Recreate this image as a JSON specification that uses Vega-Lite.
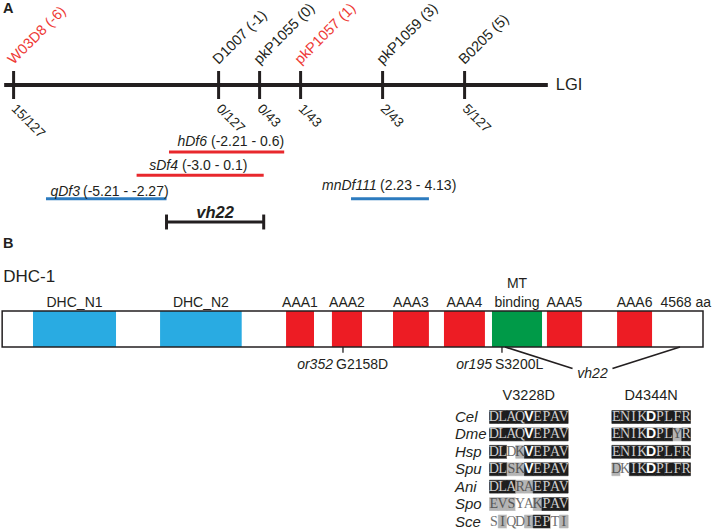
{
  "$schema": "https://vega.github.io/schema/vega-lite/v6.json",
  "width": 712,
  "height": 530,
  "autosize": {"type": "fit", "contains": "padding"},
  "padding": 0,
  "background": "white",
  "config": {
    "view": {"stroke": null},
    "text": {"font": "Liberation Sans", "color": "#231f20"}
  },
  "datasets": {
    "panels": [{"panel": "A"}, {"panel": "B"}],
    "chromosome": [{"chrom": "LGI", "from": -6.23, "to": 7.03}],
    "markers": [
      {"marker": "W03D8", "pos": -6, "recomb": "15/127", "highlighted": "yes"},
      {"marker": "D1007", "pos": -1, "recomb": "0/127", "highlighted": "no"},
      {"marker": "pkP1055", "pos": 0, "recomb": "0/43", "highlighted": "no"},
      {"marker": "pkP1057", "pos": 1, "recomb": "1/43", "highlighted": "yes"},
      {"marker": "pkP1059", "pos": 3, "recomb": "2/43", "highlighted": "no"},
      {"marker": "B0205", "pos": 5, "recomb": "5/127", "highlighted": "no"}
    ],
    "deficiencies": [
      {"name": "hDf6", "from": -2.21, "to": 0.6, "range": "(-2.21 - 0.6)", "test": "fails to complement", "lane": 1},
      {"name": "sDf4", "from": -3.0, "to": 0.1, "range": "(-3.0 - 0.1)", "test": "fails to complement", "lane": 2},
      {"name": "qDf3", "from": -5.21, "to": -2.27, "range": "(-5.21 - -2.27)", "test": "complements", "lane": 3},
      {"name": "mnDf111", "from": 2.23, "to": 4.13, "range": "(2.23 - 4.13)", "test": "complements", "lane": 3}
    ],
    "mapped": [{"allele": "vh22", "from": -2.27, "to": 0.1, "lane": 4}],
    "protein": [{"name": "DHC-1", "start": 1, "length": 4568}],
    "domains": [
      {"domain": "DHC_N1", "start": 202, "end": 743, "family": "DHC_N"},
      {"domain": "DHC_N2", "start": 1030, "end": 1562, "family": "DHC_N"},
      {"domain": "AAA1", "start": 1851, "end": 2033, "family": "AAA"},
      {"domain": "AAA2", "start": 2150, "end": 2346, "family": "AAA"},
      {"domain": "AAA3", "start": 2548, "end": 2782, "family": "AAA"},
      {"domain": "AAA4", "start": 2880, "end": 3147, "family": "AAA"},
      {"domain": "MT\nbinding", "start": 3193, "end": 3519, "family": "MTBD"},
      {"domain": "AAA5", "start": 3551, "end": 3780, "family": "AAA"},
      {"domain": "AAA6", "start": 4008, "end": 4236, "family": "AAA"}
    ],
    "mutations": [
      {"allele": "or352", "change": "G2158D", "pos": 2222},
      {"allele": "or195", "change": "S3200L", "pos": 3258}
    ],
    "vh22sites": [
      {"allele": "vh22", "change": "V3228D", "pos": 3278},
      {"allele": "vh22", "change": "D4344N", "pos": 4418}
    ],
    "alignment": [
      {"species": "Cel", "site": "V3228D", "pos": 1, "res": "D", "cons": "identical"},
      {"species": "Cel", "site": "V3228D", "pos": 2, "res": "L", "cons": "identical"},
      {"species": "Cel", "site": "V3228D", "pos": 3, "res": "A", "cons": "identical"},
      {"species": "Cel", "site": "V3228D", "pos": 4, "res": "Q", "cons": "identical"},
      {"species": "Cel", "site": "V3228D", "pos": 5, "res": "V", "cons": "identical", "key": true},
      {"species": "Cel", "site": "V3228D", "pos": 6, "res": "E", "cons": "identical"},
      {"species": "Cel", "site": "V3228D", "pos": 7, "res": "P", "cons": "identical"},
      {"species": "Cel", "site": "V3228D", "pos": 8, "res": "A", "cons": "identical"},
      {"species": "Cel", "site": "V3228D", "pos": 9, "res": "V", "cons": "identical"},
      {"species": "Dme", "site": "V3228D", "pos": 1, "res": "D", "cons": "identical"},
      {"species": "Dme", "site": "V3228D", "pos": 2, "res": "L", "cons": "identical"},
      {"species": "Dme", "site": "V3228D", "pos": 3, "res": "A", "cons": "identical"},
      {"species": "Dme", "site": "V3228D", "pos": 4, "res": "Q", "cons": "identical"},
      {"species": "Dme", "site": "V3228D", "pos": 5, "res": "V", "cons": "identical", "key": true},
      {"species": "Dme", "site": "V3228D", "pos": 6, "res": "E", "cons": "identical"},
      {"species": "Dme", "site": "V3228D", "pos": 7, "res": "P", "cons": "identical"},
      {"species": "Dme", "site": "V3228D", "pos": 8, "res": "A", "cons": "identical"},
      {"species": "Dme", "site": "V3228D", "pos": 9, "res": "V", "cons": "identical"},
      {"species": "Hsp", "site": "V3228D", "pos": 1, "res": "D", "cons": "identical"},
      {"species": "Hsp", "site": "V3228D", "pos": 2, "res": "L", "cons": "identical"},
      {"species": "Hsp", "site": "V3228D", "pos": 3, "res": "D", "cons": "different"},
      {"species": "Hsp", "site": "V3228D", "pos": 4, "res": "K", "cons": "similar"},
      {"species": "Hsp", "site": "V3228D", "pos": 5, "res": "V", "cons": "identical", "key": true},
      {"species": "Hsp", "site": "V3228D", "pos": 6, "res": "E", "cons": "identical"},
      {"species": "Hsp", "site": "V3228D", "pos": 7, "res": "P", "cons": "identical"},
      {"species": "Hsp", "site": "V3228D", "pos": 8, "res": "A", "cons": "identical"},
      {"species": "Hsp", "site": "V3228D", "pos": 9, "res": "V", "cons": "identical"},
      {"species": "Spu", "site": "V3228D", "pos": 1, "res": "D", "cons": "identical"},
      {"species": "Spu", "site": "V3228D", "pos": 2, "res": "L", "cons": "identical"},
      {"species": "Spu", "site": "V3228D", "pos": 3, "res": "S", "cons": "similar"},
      {"species": "Spu", "site": "V3228D", "pos": 4, "res": "K", "cons": "similar"},
      {"species": "Spu", "site": "V3228D", "pos": 5, "res": "V", "cons": "identical", "key": true},
      {"species": "Spu", "site": "V3228D", "pos": 6, "res": "E", "cons": "identical"},
      {"species": "Spu", "site": "V3228D", "pos": 7, "res": "P", "cons": "identical"},
      {"species": "Spu", "site": "V3228D", "pos": 8, "res": "A", "cons": "identical"},
      {"species": "Spu", "site": "V3228D", "pos": 9, "res": "V", "cons": "identical"},
      {"species": "Ani", "site": "V3228D", "pos": 1, "res": "D", "cons": "identical"},
      {"species": "Ani", "site": "V3228D", "pos": 2, "res": "L", "cons": "identical"},
      {"species": "Ani", "site": "V3228D", "pos": 3, "res": "A", "cons": "identical"},
      {"species": "Ani", "site": "V3228D", "pos": 4, "res": "R", "cons": "similar"},
      {"species": "Ani", "site": "V3228D", "pos": 5, "res": "A", "cons": "similar"},
      {"species": "Ani", "site": "V3228D", "pos": 6, "res": "E", "cons": "identical"},
      {"species": "Ani", "site": "V3228D", "pos": 7, "res": "P", "cons": "identical"},
      {"species": "Ani", "site": "V3228D", "pos": 8, "res": "A", "cons": "identical"},
      {"species": "Ani", "site": "V3228D", "pos": 9, "res": "V", "cons": "identical"},
      {"species": "Spo", "site": "V3228D", "pos": 1, "res": "E", "cons": "similar"},
      {"species": "Spo", "site": "V3228D", "pos": 2, "res": "V", "cons": "similar"},
      {"species": "Spo", "site": "V3228D", "pos": 3, "res": "S", "cons": "similar"},
      {"species": "Spo", "site": "V3228D", "pos": 4, "res": "Y", "cons": "different"},
      {"species": "Spo", "site": "V3228D", "pos": 5, "res": "A", "cons": "different"},
      {"species": "Spo", "site": "V3228D", "pos": 6, "res": "K", "cons": "similar"},
      {"species": "Spo", "site": "V3228D", "pos": 7, "res": "P", "cons": "identical"},
      {"species": "Spo", "site": "V3228D", "pos": 8, "res": "A", "cons": "identical"},
      {"species": "Spo", "site": "V3228D", "pos": 9, "res": "V", "cons": "identical"},
      {"species": "Sce", "site": "V3228D", "pos": 1, "res": "S", "cons": "different"},
      {"species": "Sce", "site": "V3228D", "pos": 2, "res": "I", "cons": "similar"},
      {"species": "Sce", "site": "V3228D", "pos": 3, "res": "Q", "cons": "different"},
      {"species": "Sce", "site": "V3228D", "pos": 4, "res": "D", "cons": "different"},
      {"species": "Sce", "site": "V3228D", "pos": 5, "res": "I", "cons": "similar"},
      {"species": "Sce", "site": "V3228D", "pos": 6, "res": "E", "cons": "identical"},
      {"species": "Sce", "site": "V3228D", "pos": 7, "res": "P", "cons": "identical"},
      {"species": "Sce", "site": "V3228D", "pos": 8, "res": "T", "cons": "different"},
      {"species": "Sce", "site": "V3228D", "pos": 9, "res": "I", "cons": "similar"},
      {"species": "Cel", "site": "D4344N", "pos": 1, "res": "E", "cons": "identical"},
      {"species": "Cel", "site": "D4344N", "pos": 2, "res": "N", "cons": "identical"},
      {"species": "Cel", "site": "D4344N", "pos": 3, "res": "I", "cons": "identical"},
      {"species": "Cel", "site": "D4344N", "pos": 4, "res": "K", "cons": "identical"},
      {"species": "Cel", "site": "D4344N", "pos": 5, "res": "D", "cons": "identical", "key": true},
      {"species": "Cel", "site": "D4344N", "pos": 6, "res": "P", "cons": "identical"},
      {"species": "Cel", "site": "D4344N", "pos": 7, "res": "L", "cons": "identical"},
      {"species": "Cel", "site": "D4344N", "pos": 8, "res": "F", "cons": "identical"},
      {"species": "Cel", "site": "D4344N", "pos": 9, "res": "R", "cons": "identical"},
      {"species": "Dme", "site": "D4344N", "pos": 1, "res": "E", "cons": "identical"},
      {"species": "Dme", "site": "D4344N", "pos": 2, "res": "N", "cons": "identical"},
      {"species": "Dme", "site": "D4344N", "pos": 3, "res": "I", "cons": "identical"},
      {"species": "Dme", "site": "D4344N", "pos": 4, "res": "K", "cons": "identical"},
      {"species": "Dme", "site": "D4344N", "pos": 5, "res": "D", "cons": "identical", "key": true},
      {"species": "Dme", "site": "D4344N", "pos": 6, "res": "P", "cons": "identical"},
      {"species": "Dme", "site": "D4344N", "pos": 7, "res": "L", "cons": "identical"},
      {"species": "Dme", "site": "D4344N", "pos": 8, "res": "Y", "cons": "similar"},
      {"species": "Dme", "site": "D4344N", "pos": 9, "res": "R", "cons": "identical"},
      {"species": "Hsp", "site": "D4344N", "pos": 1, "res": "E", "cons": "identical"},
      {"species": "Hsp", "site": "D4344N", "pos": 2, "res": "N", "cons": "identical"},
      {"species": "Hsp", "site": "D4344N", "pos": 3, "res": "I", "cons": "identical"},
      {"species": "Hsp", "site": "D4344N", "pos": 4, "res": "K", "cons": "identical"},
      {"species": "Hsp", "site": "D4344N", "pos": 5, "res": "D", "cons": "identical", "key": true},
      {"species": "Hsp", "site": "D4344N", "pos": 6, "res": "P", "cons": "identical"},
      {"species": "Hsp", "site": "D4344N", "pos": 7, "res": "L", "cons": "identical"},
      {"species": "Hsp", "site": "D4344N", "pos": 8, "res": "F", "cons": "identical"},
      {"species": "Hsp", "site": "D4344N", "pos": 9, "res": "R", "cons": "identical"},
      {"species": "Spu", "site": "D4344N", "pos": 1, "res": "D", "cons": "similar"},
      {"species": "Spu", "site": "D4344N", "pos": 2, "res": "K", "cons": "different"},
      {"species": "Spu", "site": "D4344N", "pos": 3, "res": "I", "cons": "identical"},
      {"species": "Spu", "site": "D4344N", "pos": 4, "res": "K", "cons": "identical"},
      {"species": "Spu", "site": "D4344N", "pos": 5, "res": "D", "cons": "identical", "key": true},
      {"species": "Spu", "site": "D4344N", "pos": 6, "res": "P", "cons": "identical"},
      {"species": "Spu", "site": "D4344N", "pos": 7, "res": "L", "cons": "identical"},
      {"species": "Spu", "site": "D4344N", "pos": 8, "res": "F", "cons": "identical"},
      {"species": "Spu", "site": "D4344N", "pos": 9, "res": "R", "cons": "identical"}
    ]
  },
  "resolve": {"scale": {"x": "independent", "y": "independent", "color": "independent", "fill": "independent", "stroke": "independent"}},
  "layer": [
    {
      "layer": [
        {
          "data": {"name": "panels"},
          "transform": [{"filter": "datum.panel === 'A'"}],
          "mark": {"type": "text", "align": "left", "baseline": "middle", "fontWeight": "bold", "fontSize": 14.5, "dx": -10.5},
          "encoding": {
            "x": {"datum": -6, "type": "quantitative", "scale": {"type": "linear", "domain": [-6, 5], "range": [13.6, 464.6], "nice": false, "zero": false}, "axis": null},
            "y": {"datum": -5.13, "type": "quantitative", "scale": {"type": "linear", "domain": [1, 4], "range": [151, 221], "nice": false, "zero": false}, "axis": null},
            "text": {"field": "panel", "type": "nominal"}
          }
        },
        {
          "data": {"name": "chromosome"},
          "mark": {"type": "rule", "strokeWidth": 4, "color": "#231f20"},
          "encoding": {
            "x": {"field": "from", "type": "quantitative", "scale": {"type": "linear", "domain": [-6, 5], "range": [13.6, 464.6], "nice": false, "zero": false}, "axis": null},
            "x2": {"field": "to"},
            "y": {"datum": -1.871, "type": "quantitative", "scale": {"type": "linear", "domain": [1, 4], "range": [151, 221], "nice": false, "zero": false}, "axis": null}
          }
        },
        {
          "data": {"name": "chromosome"},
          "mark": {"type": "text", "align": "left", "baseline": "middle", "fontSize": 16.5, "dx": 8},
          "encoding": {
            "x": {"field": "to", "type": "quantitative", "scale": {"type": "linear", "domain": [-6, 5], "range": [13.6, 464.6], "nice": false, "zero": false}, "axis": null},
            "y": {"datum": -1.871, "type": "quantitative", "scale": {"type": "linear", "domain": [1, 4], "range": [151, 221], "nice": false, "zero": false}, "axis": null},
            "text": {"field": "chrom", "type": "nominal"}
          }
        },
        {
          "data": {"name": "markers"},
          "transform": [{"calculate": "-2.471", "as": "tickTop"}, {"calculate": "-1.271", "as": "tickBottom"}],
          "mark": {"type": "rule", "strokeWidth": 3, "color": "#231f20"},
          "encoding": {
            "x": {"field": "pos", "type": "quantitative", "scale": {"type": "linear", "domain": [-6, 5], "range": [13.6, 464.6], "nice": false, "zero": false}, "axis": null},
            "y": {"field": "tickTop", "type": "quantitative", "scale": {"type": "linear", "domain": [1, 4], "range": [151, 221], "nice": false, "zero": false}, "axis": null},
            "y2": {"field": "tickBottom"}
          }
        },
        {
          "data": {"name": "markers"},
          "transform": [{"calculate": "datum.marker + ' (' + datum.pos + ')'", "as": "label"}],
          "mark": {"type": "text", "align": "left", "baseline": "alphabetic", "angle": -45, "fontSize": 14.5},
          "encoding": {
            "x": {"field": "pos", "type": "quantitative", "scale": {"type": "linear", "domain": [-6, 5], "range": [13.6, 464.6], "nice": false, "zero": false}, "axis": null},
            "y": {"datum": -2.729, "type": "quantitative", "scale": {"type": "linear", "domain": [1, 4], "range": [151, 221], "nice": false, "zero": false}, "axis": null},
            "text": {"field": "label", "type": "nominal"},
            "color": {"field": "highlighted", "type": "nominal", "scale": {"domain": ["yes", "no"], "range": ["#ee3a36", "#231f20"]}, "legend": null}
          }
        },
        {
          "data": {"name": "markers"},
          "mark": {"type": "text", "align": "left", "baseline": "alphabetic", "angle": 45, "fontSize": 13.5, "dx": -2.1, "dy": 2.1},
          "encoding": {
            "x": {"field": "pos", "type": "quantitative", "scale": {"type": "linear", "domain": [-6, 5], "range": [13.6, 464.6], "nice": false, "zero": false}, "axis": null},
            "y": {"datum": -0.821, "type": "quantitative", "scale": {"type": "linear", "domain": [1, 4], "range": [151, 221], "nice": false, "zero": false}, "axis": null},
            "text": {"field": "recomb", "type": "nominal"}
          }
        },
        {
          "data": {"name": "deficiencies"},
          "mark": {"type": "rule", "strokeWidth": 3},
          "encoding": {
            "x": {"field": "from", "type": "quantitative", "scale": {"type": "linear", "domain": [-6, 5], "range": [13.6, 464.6], "nice": false, "zero": false}, "axis": null},
            "x2": {"field": "to"},
            "y": {"field": "lane", "type": "quantitative", "scale": {"type": "linear", "domain": [1, 4], "range": [151, 221], "nice": false, "zero": false}, "axis": null},
            "stroke": {"field": "test", "type": "nominal", "scale": {"domain": ["fails to complement", "complements"], "range": ["#e8282d", "#2c7bbf"]}, "legend": null}
          }
        },
        {
          "data": {"name": "deficiencies"},
          "transform": [{"filter": "datum.name === 'hDf6'"}],
          "encoding": {
            "x": {"field": "from", "type": "quantitative", "scale": {"type": "linear", "domain": [-6, 5], "range": [13.6, 464.6], "nice": false, "zero": false}, "axis": null},
            "y": {"field": "lane", "type": "quantitative", "scale": {"type": "linear", "domain": [1, 4], "range": [151, 221], "nice": false, "zero": false}, "axis": null}
          },
          "layer": [
            {"mark": {"type": "text", "align": "right", "baseline": "middle", "fontStyle": "italic", "fontSize": 14, "dx": 38, "dy": -10}, "encoding": {"text": {"field": "name", "type": "nominal"}}},
            {"mark": {"type": "text", "align": "left", "baseline": "middle", "fontSize": 14, "dx": 42, "dy": -10}, "encoding": {"text": {"field": "range", "type": "nominal"}}}
          ]
        },
        {
          "data": {"name": "deficiencies"},
          "transform": [{"filter": "datum.name === 'sDf4'"}],
          "encoding": {
            "x": {"field": "from", "type": "quantitative", "scale": {"type": "linear", "domain": [-6, 5], "range": [13.6, 464.6], "nice": false, "zero": false}, "axis": null},
            "y": {"field": "lane", "type": "quantitative", "scale": {"type": "linear", "domain": [1, 4], "range": [151, 221], "nice": false, "zero": false}, "axis": null}
          },
          "layer": [
            {"mark": {"type": "text", "align": "right", "baseline": "middle", "fontStyle": "italic", "fontSize": 14, "dx": 41.4, "dy": -9}, "encoding": {"text": {"field": "name", "type": "nominal"}}},
            {"mark": {"type": "text", "align": "left", "baseline": "middle", "fontSize": 14, "dx": 45.4, "dy": -9}, "encoding": {"text": {"field": "range", "type": "nominal"}}}
          ]
        },
        {
          "data": {"name": "deficiencies"},
          "transform": [{"filter": "datum.name === 'qDf3'"}],
          "encoding": {
            "x": {"field": "from", "type": "quantitative", "scale": {"type": "linear", "domain": [-6, 5], "range": [13.6, 464.6], "nice": false, "zero": false}, "axis": null},
            "y": {"field": "lane", "type": "quantitative", "scale": {"type": "linear", "domain": [1, 4], "range": [151, 221], "nice": false, "zero": false}, "axis": null}
          },
          "layer": [
            {"mark": {"type": "text", "align": "right", "baseline": "middle", "fontStyle": "italic", "fontSize": 14, "dx": 34, "dy": -7}, "encoding": {"text": {"field": "name", "type": "nominal"}}},
            {"mark": {"type": "text", "align": "left", "baseline": "middle", "fontSize": 14, "dx": 37, "dy": -7}, "encoding": {"text": {"field": "range", "type": "nominal"}}}
          ]
        },
        {
          "data": {"name": "deficiencies"},
          "transform": [{"filter": "datum.name === 'mnDf111'"}],
          "encoding": {
            "x": {"field": "from", "type": "quantitative", "scale": {"type": "linear", "domain": [-6, 5], "range": [13.6, 464.6], "nice": false, "zero": false}, "axis": null},
            "y": {"field": "lane", "type": "quantitative", "scale": {"type": "linear", "domain": [1, 4], "range": [151, 221], "nice": false, "zero": false}, "axis": null}
          },
          "layer": [
            {"mark": {"type": "text", "align": "right", "baseline": "middle", "fontStyle": "italic", "fontSize": 14, "dx": 25.7, "dy": -12.7}, "encoding": {"text": {"field": "name", "type": "nominal"}}},
            {"mark": {"type": "text", "align": "left", "baseline": "middle", "fontSize": 14, "dx": 29, "dy": -12.7}, "encoding": {"text": {"field": "range", "type": "nominal"}}}
          ]
        },
        {
          "data": {"name": "mapped"},
          "mark": {"type": "rule", "strokeWidth": 3, "color": "#231f20"},
          "encoding": {
            "x": {"field": "from", "type": "quantitative", "scale": {"type": "linear", "domain": [-6, 5], "range": [13.6, 464.6], "nice": false, "zero": false}, "axis": null},
            "x2": {"field": "to"},
            "y": {"field": "lane", "type": "quantitative", "scale": {"type": "linear", "domain": [1, 4], "range": [151, 221], "nice": false, "zero": false}, "axis": null}
          }
        },
        {
          "data": {"name": "mapped"},
          "transform": [
            {"fold": ["from", "to"], "as": ["end", "at"]},
            {"calculate": "datum.lane - 0.32", "as": "capTop"},
            {"calculate": "datum.lane + 0.32", "as": "capBottom"}
          ],
          "mark": {"type": "rule", "strokeWidth": 3, "color": "#231f20"},
          "encoding": {
            "x": {"field": "at", "type": "quantitative", "scale": {"type": "linear", "domain": [-6, 5], "range": [13.6, 464.6], "nice": false, "zero": false}, "axis": null},
            "y": {"field": "capTop", "type": "quantitative", "scale": {"type": "linear", "domain": [1, 4], "range": [151, 221], "nice": false, "zero": false}, "axis": null},
            "y2": {"field": "capBottom"}
          }
        },
        {
          "data": {"name": "mapped"},
          "transform": [{"calculate": "(datum.from + datum.to) / 2", "as": "mid"}],
          "mark": {"type": "text", "align": "center", "baseline": "middle", "fontStyle": "italic", "fontWeight": "bold", "fontSize": 16.5, "dy": -9},
          "encoding": {
            "x": {"field": "mid", "type": "quantitative", "scale": {"type": "linear", "domain": [-6, 5], "range": [13.6, 464.6], "nice": false, "zero": false}, "axis": null},
            "y": {"field": "lane", "type": "quantitative", "scale": {"type": "linear", "domain": [1, 4], "range": [151, 221], "nice": false, "zero": false}, "axis": null},
            "text": {"field": "allele", "type": "nominal"}
          }
        }
      ]
    },
    {
      "layer": [
        {
          "data": {"name": "panels"},
          "transform": [{"filter": "datum.panel === 'B'"}],
          "mark": {"type": "text", "align": "left", "baseline": "middle", "fontWeight": "bold", "fontSize": 14.5, "dx": 1},
          "encoding": {
            "x": {"datum": 0, "type": "quantitative", "scale": {"type": "linear", "domain": [0, 4568], "range": [2, 703], "nice": false, "zero": false}, "axis": null},
            "y": {"datum": 2.86, "type": "quantitative", "scale": {"type": "linear", "domain": [0, 1], "range": [346, 310], "nice": false, "zero": false}, "axis": null},
            "text": {"field": "panel", "type": "nominal"}
          }
        },
        {
          "data": {"name": "protein"},
          "mark": {"type": "text", "align": "left", "baseline": "middle", "fontSize": 17, "dx": 1},
          "encoding": {
            "x": {"field": "start", "type": "quantitative", "scale": {"type": "linear", "domain": [0, 4568], "range": [2, 703], "nice": false, "zero": false}, "axis": null},
            "y": {"datum": 1.944, "type": "quantitative", "scale": {"type": "linear", "domain": [0, 1], "range": [346, 310], "nice": false, "zero": false}, "axis": null},
            "text": {"field": "name", "type": "nominal"}
          }
        },
        {
          "data": {"name": "domains"},
          "transform": [{"calculate": "0", "as": "bottom"}, {"calculate": "1", "as": "top"}],
          "mark": {"type": "rect"},
          "encoding": {
            "x": {"field": "start", "type": "quantitative", "scale": {"type": "linear", "domain": [0, 4568], "range": [2, 703], "nice": false, "zero": false}, "axis": null},
            "x2": {"field": "end"},
            "y": {"field": "bottom", "type": "quantitative", "scale": {"type": "linear", "domain": [0, 1], "range": [346, 310], "nice": false, "zero": false}, "axis": null},
            "y2": {"field": "top"},
            "fill": {"field": "family", "type": "nominal", "scale": {"domain": ["DHC_N", "AAA", "MTBD"], "range": ["#29abe2", "#ed1c24", "#009a48"]}, "legend": null}
          }
        },
        {
          "data": {"name": "protein"},
          "transform": [{"calculate": "0", "as": "bottom"}, {"calculate": "1", "as": "top"}],
          "mark": {"type": "rect", "fill": "transparent", "stroke": "#231f20", "strokeWidth": 1.5},
          "encoding": {
            "x": {"field": "start", "type": "quantitative", "scale": {"type": "linear", "domain": [0, 4568], "range": [2, 703], "nice": false, "zero": false}, "axis": null},
            "x2": {"field": "length"},
            "y": {"field": "bottom", "type": "quantitative", "scale": {"type": "linear", "domain": [0, 1], "range": [346, 310], "nice": false, "zero": false}, "axis": null},
            "y2": {"field": "top"}
          }
        },
        {
          "data": {"name": "domains"},
          "transform": [{"filter": "indexof(datum.domain, '\\n') < 0"}, {"calculate": "(datum.start + datum.end) / 2", "as": "mid"}],
          "mark": {"type": "text", "align": "center", "baseline": "bottom", "fontSize": 14, "dy": -1},
          "encoding": {
            "x": {"field": "mid", "type": "quantitative", "scale": {"type": "linear", "domain": [0, 4568], "range": [2, 703], "nice": false, "zero": false}, "axis": null},
            "y": {"datum": 1, "type": "quantitative", "scale": {"type": "linear", "domain": [0, 1], "range": [346, 310], "nice": false, "zero": false}, "axis": null},
            "text": {"field": "domain", "type": "nominal"}
          }
        },
        {
          "data": {"name": "domains"},
          "transform": [{"filter": "indexof(datum.domain, '\\n') >= 0"}, {"calculate": "(datum.start + datum.end) / 2", "as": "mid"}],
          "mark": {"type": "text", "align": "center", "baseline": "bottom", "fontSize": 14, "lineBreak": "\n", "lineHeight": 19, "dy": -20},
          "encoding": {
            "x": {"field": "mid", "type": "quantitative", "scale": {"type": "linear", "domain": [0, 4568], "range": [2, 703], "nice": false, "zero": false}, "axis": null},
            "y": {"datum": 1, "type": "quantitative", "scale": {"type": "linear", "domain": [0, 1], "range": [346, 310], "nice": false, "zero": false}, "axis": null},
            "text": {"field": "domain", "type": "nominal"}
          }
        },
        {
          "data": {"name": "protein"},
          "transform": [{"calculate": "datum.length + ' aa'", "as": "label"}],
          "mark": {"type": "text", "align": "right", "baseline": "bottom", "fontSize": 14, "dx": 8, "dy": -1},
          "encoding": {
            "x": {"field": "length", "type": "quantitative", "scale": {"type": "linear", "domain": [0, 4568], "range": [2, 703], "nice": false, "zero": false}, "axis": null},
            "y": {"datum": 1, "type": "quantitative", "scale": {"type": "linear", "domain": [0, 1], "range": [346, 310], "nice": false, "zero": false}, "axis": null},
            "text": {"field": "label", "type": "nominal"}
          }
        },
        {
          "data": {"name": "mutations"},
          "transform": [{"calculate": "0", "as": "bottom"}, {"calculate": "-0.16", "as": "tickEnd"}],
          "mark": {"type": "rule", "strokeWidth": 1.3, "color": "#231f20"},
          "encoding": {
            "x": {"field": "pos", "type": "quantitative", "scale": {"type": "linear", "domain": [0, 4568], "range": [2, 703], "nice": false, "zero": false}, "axis": null},
            "y": {"field": "bottom", "type": "quantitative", "scale": {"type": "linear", "domain": [0, 1], "range": [346, 310], "nice": false, "zero": false}, "axis": null},
            "y2": {"field": "tickEnd"}
          }
        },
        {
          "data": {"name": "mutations"},
          "mark": {"type": "text", "align": "right", "baseline": "middle", "fontStyle": "italic", "fontSize": 14, "dx": -10, "dy": 18},
          "encoding": {
            "x": {"field": "pos", "type": "quantitative", "scale": {"type": "linear", "domain": [0, 4568], "range": [2, 703], "nice": false, "zero": false}, "axis": null},
            "y": {"datum": 0, "type": "quantitative", "scale": {"type": "linear", "domain": [0, 1], "range": [346, 310], "nice": false, "zero": false}, "axis": null},
            "text": {"field": "allele", "type": "nominal"}
          }
        },
        {
          "data": {"name": "mutations"},
          "mark": {"type": "text", "align": "left", "baseline": "middle", "fontSize": 14, "dx": -7, "dy": 18},
          "encoding": {
            "x": {"field": "pos", "type": "quantitative", "scale": {"type": "linear", "domain": [0, 4568], "range": [2, 703], "nice": false, "zero": false}, "axis": null},
            "y": {"datum": 0, "type": "quantitative", "scale": {"type": "linear", "domain": [0, 1], "range": [346, 310], "nice": false, "zero": false}, "axis": null},
            "text": {"field": "change", "type": "nominal"}
          }
        },
        {
          "data": {"name": "vh22sites"},
          "transform": [
            {"joinaggregate": [{"op": "mean", "field": "pos", "as": "mid"}]},
            {"calculate": "datum.pos < datum.mid ? datum.mid - 130 : datum.mid + 130", "as": "toLabel"},
            {"calculate": "0", "as": "bottom"},
            {"calculate": "-0.6", "as": "labelLevel"}
          ],
          "mark": {"type": "rule", "strokeWidth": 1.6, "color": "#231f20"},
          "encoding": {
            "x": {"field": "pos", "type": "quantitative", "scale": {"type": "linear", "domain": [0, 4568], "range": [2, 703], "nice": false, "zero": false}, "axis": null},
            "x2": {"field": "toLabel"},
            "y": {"field": "bottom", "type": "quantitative", "scale": {"type": "linear", "domain": [0, 1], "range": [346, 310], "nice": false, "zero": false}, "axis": null},
            "y2": {"field": "labelLevel"}
          }
        },
        {
          "data": {"name": "vh22sites"},
          "transform": [{"aggregate": [{"op": "mean", "field": "pos", "as": "mid"}], "groupby": ["allele"]}],
          "mark": {"type": "text", "align": "center", "baseline": "middle", "fontStyle": "italic", "fontSize": 14},
          "encoding": {
            "x": {"field": "mid", "type": "quantitative", "scale": {"type": "linear", "domain": [0, 4568], "range": [2, 703], "nice": false, "zero": false}, "axis": null},
            "y": {"datum": -0.75, "type": "quantitative", "scale": {"type": "linear", "domain": [0, 1], "range": [346, 310], "nice": false, "zero": false}, "axis": null},
            "text": {"field": "allele", "type": "nominal"}
          }
        }
      ]
    },
    {
      "data": {"name": "alignment"},
      "transform": [
        {"calculate": "datum.pos + (datum.site === 'D4344N' ? 14 : 0)", "as": "col"},
        {"calculate": "datum.col - 0.5", "as": "colStart"},
        {"calculate": "datum.col + 0.5", "as": "colEnd"},
        {"calculate": "indexof(['Cel', 'Dme', 'Hsp', 'Spu', 'Ani', 'Spo', 'Sce'], datum.species) + 1", "as": "row"},
        {"calculate": "datum.row - 0.37", "as": "rowTop"},
        {"calculate": "datum.row + 0.37", "as": "rowBottom"}
      ],
      "layer": [
        {
          "mark": {"type": "rect", "strokeWidth": 0.6},
          "encoding": {
            "x": {"field": "colStart", "type": "quantitative", "scale": {"type": "linear", "domain": [0.5, 23.5], "range": [489.5, 690.5], "nice": false, "zero": false}, "axis": null},
            "x2": {"field": "colEnd"},
            "y": {"field": "rowTop", "type": "quantitative", "scale": {"type": "linear", "domain": [1, 7], "range": [416, 520.5], "nice": false, "zero": false}, "axis": null},
            "y2": {"field": "rowBottom"},
            "fill": {"field": "cons", "type": "nominal", "scale": {"domain": ["identical", "similar", "different"], "range": ["#1e1e1e", "#b4b4b4", "#ffffff"]}, "legend": null},
            "stroke": {"field": "cons", "type": "nominal", "scale": {"domain": ["identical", "similar", "different"], "range": ["#1e1e1e", "#b4b4b4", "#ffffff"]}, "legend": null}
          }
        },
        {
          "transform": [{"filter": "datum.key !== true"}],
          "mark": {"type": "text", "align": "center", "baseline": "middle", "font": "Liberation Serif", "fontSize": 14},
          "encoding": {
            "x": {"field": "col", "type": "quantitative", "scale": {"type": "linear", "domain": [0.5, 23.5], "range": [489.5, 690.5], "nice": false, "zero": false}, "axis": null},
            "y": {"field": "row", "type": "quantitative", "scale": {"type": "linear", "domain": [1, 7], "range": [416, 520.5], "nice": false, "zero": false}, "axis": null},
            "text": {"field": "res", "type": "nominal"},
            "color": {"field": "cons", "type": "nominal", "scale": {"domain": ["identical", "similar", "different"], "range": ["#cfcfcf", "#555555", "#6e6e6e"]}, "legend": null}
          }
        },
        {
          "transform": [{"filter": "datum.key === true"}],
          "mark": {"type": "text", "align": "center", "baseline": "middle", "font": "Liberation Sans", "fontWeight": "bold", "fontSize": 14, "color": "#ffffff"},
          "encoding": {
            "x": {"field": "col", "type": "quantitative", "scale": {"type": "linear", "domain": [0.5, 23.5], "range": [489.5, 690.5], "nice": false, "zero": false}, "axis": null},
            "y": {"field": "row", "type": "quantitative", "scale": {"type": "linear", "domain": [1, 7], "range": [416, 520.5], "nice": false, "zero": false}, "axis": null},
            "text": {"field": "res", "type": "nominal"}
          }
        },
        {
          "transform": [{"aggregate": [{"op": "mean", "field": "col", "as": "mid"}, {"op": "min", "field": "row", "as": "firstRow"}], "groupby": ["site"]}],
          "mark": {"type": "text", "align": "center", "baseline": "middle", "fontSize": 14.5, "dy": -21},
          "encoding": {
            "x": {"field": "mid", "type": "quantitative", "scale": {"type": "linear", "domain": [0.5, 23.5], "range": [489.5, 690.5], "nice": false, "zero": false}, "axis": null},
            "y": {"field": "firstRow", "type": "quantitative", "scale": {"type": "linear", "domain": [1, 7], "range": [416, 520.5], "nice": false, "zero": false}, "axis": null},
            "text": {"field": "site", "type": "nominal"}
          }
        },
        {
          "transform": [{"aggregate": [{"op": "min", "field": "colStart", "as": "firstCol"}], "groupby": ["species", "row"]}],
          "mark": {"type": "text", "align": "left", "baseline": "middle", "fontStyle": "italic", "fontSize": 15, "dx": -34.5},
          "encoding": {
            "x": {"field": "firstCol", "type": "quantitative", "scale": {"type": "linear", "domain": [0.5, 23.5], "range": [489.5, 690.5], "nice": false, "zero": false}, "axis": null},
            "y": {"field": "row", "type": "quantitative", "scale": {"type": "linear", "domain": [1, 7], "range": [416, 520.5], "nice": false, "zero": false}, "axis": null},
            "text": {"field": "species", "type": "nominal"}
          }
        }
      ]
    }
  ]
}
